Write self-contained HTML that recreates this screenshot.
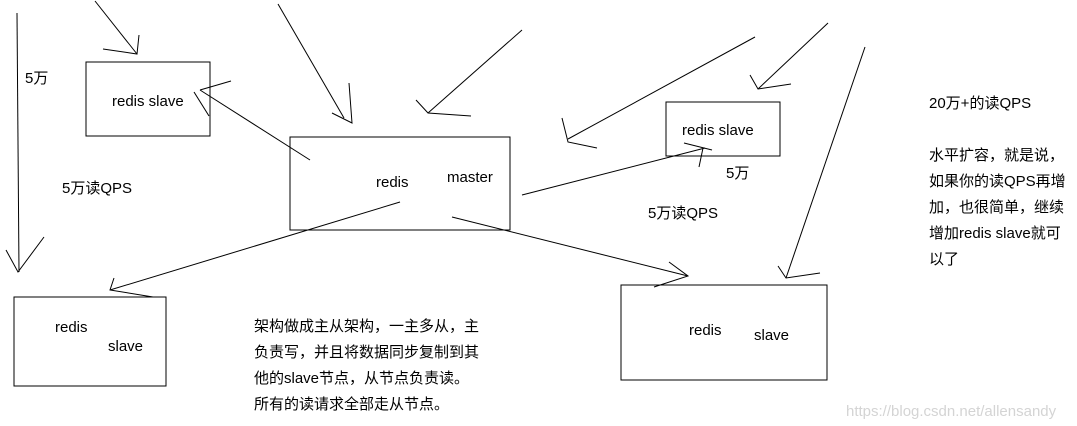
<!DOCTYPE html>
<html><head><meta charset="utf-8"><style>
html,body{margin:0;padding:0;background:#fff;}
svg{display:block;}
text{font-family:"Liberation Sans","Noto Sans CJK SC",sans-serif;font-size:15px;fill:#000;}
</style></head><body>
<svg width="1077" height="426" viewBox="0 0 1077 426" xmlns="http://www.w3.org/2000/svg">
<g stroke="#000" stroke-width="1" fill="none">
<line x1="17" y1="13" x2="19" y2="272"/>
<polyline points="6,250 18,272 44,237"/>
<line x1="95" y1="1" x2="137" y2="54"/>
<polyline points="103,49 137,54 139,35"/>
<rect x="86" y="62" width="124" height="74"/>
<line x1="310" y1="160" x2="200" y2="90"/>
<line x1="200" y1="90" x2="231" y2="81"/>
<line x1="194" y1="92" x2="209" y2="116"/>
<line x1="278" y1="4" x2="344" y2="118"/>
<polyline points="332,113 352,123 349,83"/>
<line x1="522" y1="30" x2="428" y2="113"/>
<polyline points="416,100 428,113 471,116"/>
<rect x="290" y="137" width="220" height="93"/>
<line x1="400" y1="202" x2="110" y2="290"/>
<polyline points="114,278 110,290 153,297"/>
<rect x="14" y="297" width="152" height="89"/>
<line x1="452" y1="217" x2="688" y2="276"/>
<polyline points="669,262 688,276 654,287"/>
<rect x="621" y="285" width="206" height="95"/>
<line x1="522" y1="195" x2="705" y2="148"/>
<line x1="684" y1="143" x2="712" y2="150"/>
<line x1="703" y1="148" x2="699" y2="167"/>
<rect x="666" y="102" width="114" height="54"/>
<line x1="755" y1="37" x2="568" y2="139"/>
<polyline points="562,118 568,142 597,148"/>
<line x1="828" y1="23" x2="758" y2="89"/>
<polyline points="750,75 758,89 791,84"/>
<line x1="865" y1="47" x2="786" y2="278"/>
<polyline points="778,266 786,278 820,273"/>
</g>
<text x="25" y="83">5万</text>
<text x="112" y="106">redis slave</text>
<text x="62" y="193">5万读QPS</text>
<text x="376" y="187">redis</text>
<text x="447" y="182">master</text>
<text x="682" y="135">redis slave</text>
<text x="726" y="178">5万</text>
<text x="648" y="218">5万读QPS</text>
<text x="55" y="332">redis</text>
<text x="108" y="351">slave</text>
<text x="689" y="335">redis</text>
<text x="754" y="340">slave</text>
<text x="929" y="108">20万+的读QPS</text>
<text x="929" y="160">水平扩容，就是说，</text>
<text x="929" y="186">如果你的读QPS再增</text>
<text x="929" y="212">加，也很简单，继续</text>
<text x="929" y="238">增加redis slave就可</text>
<text x="929" y="264">以了</text>
<text x="254" y="331">架构做成主从架构，一主多从，主</text>
<text x="254" y="357">负责写，并且将数据同步复制到其</text>
<text x="254" y="383">他的slave节点，从节点负责读。</text>
<text x="254" y="409">所有的读请求全部走从节点。</text>
<text x="846" y="416" style="fill:#d4d4d4;font-size:15px">https://blog.csdn.net/allensandy</text>
</svg>
</body></html>
